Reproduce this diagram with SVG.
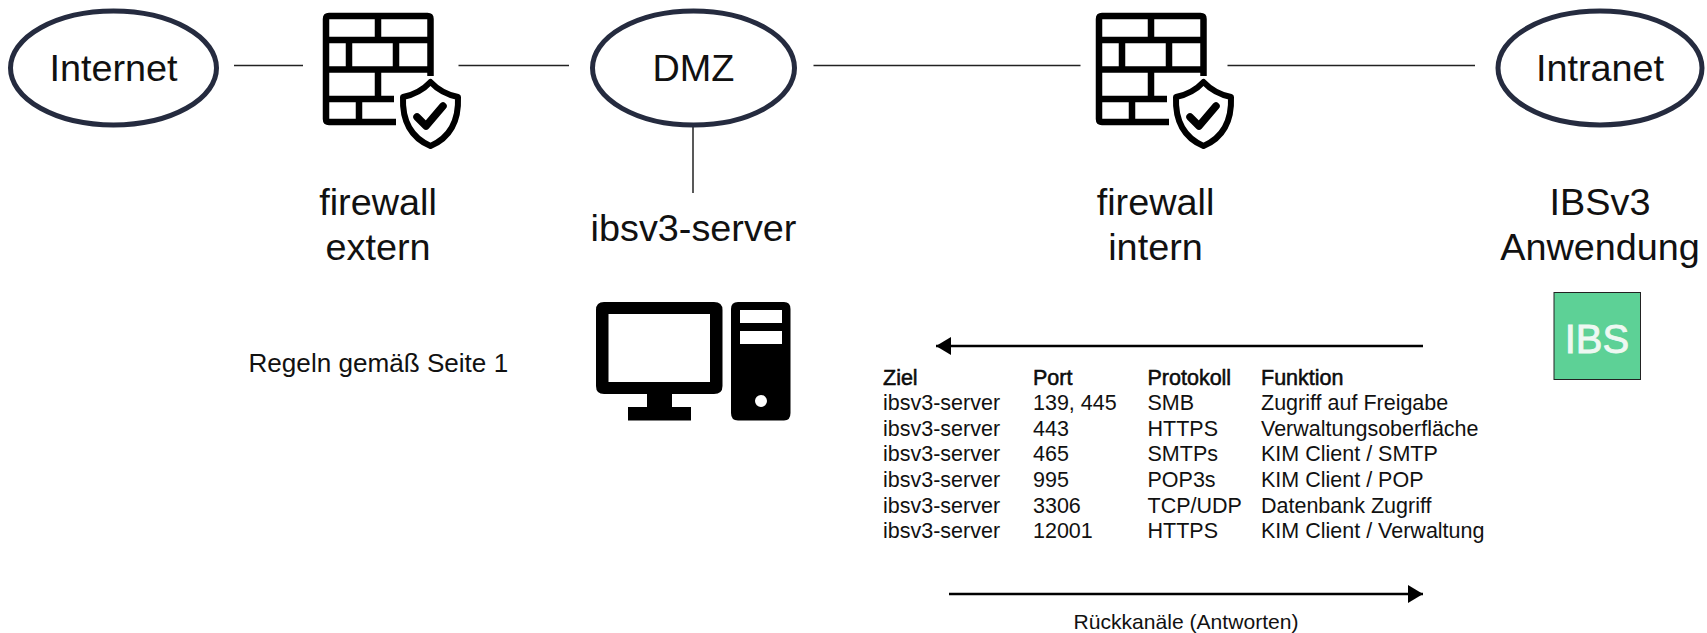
<svg xmlns="http://www.w3.org/2000/svg" width="1707" height="633" viewBox="0 0 1707 633">
<style>
text{font-family:"Liberation Sans",Arial,sans-serif;fill:#111}
.big{font-size:37.8px;text-anchor:middle}
.t{font-size:21.5px}
.h{stroke:#000;stroke-width:.5px}
.oval{fill:#fff;stroke:#252b3f;stroke-width:5}
.line{stroke:#222;stroke-width:1.5;fill:none}
.arrow{stroke:#000;stroke-width:2.6;fill:none}
.fwb{fill:none;stroke:#000;stroke-width:6.500;stroke-linejoin:round}
</style>
<defs>
<marker id="ah" markerUnits="userSpaceOnUse" markerWidth="16" markerHeight="18" refX="15" refY="9" orient="auto"><path d="M0 0L15 9L0 18Z" fill="#000"/></marker>
<g id="fwicon">
<path class="fwb" d="M430.500 76V19Q430.500 16 427.500 16H329Q326 16 326 19V119Q326 122 329 122H396"/>
<path class="fwb" d="M326 40H430M326 69.500H430M326 99H394M378 16V40M349 40V69.500M396 40V69.500M378 69.500V99M359 99V122"/>
<path d="M430.500 82C423 90 413 95 403 97C402 122 412 138 430.500 146C449 138 459 122 458 97C448 95 438 90 430.500 82Z" fill="#fff" stroke="#000" stroke-width="6" stroke-linejoin="round"/>
<path d="M417 117L426 126L443 106" fill="none" stroke="#000" stroke-width="7.500" stroke-linecap="round" stroke-linejoin="round"/>
</g>
</defs>
<rect width="1707" height="633" fill="#fff"/>
<g id="connectors">
<line class="line" x1="234" y1="65.500" x2="303" y2="65.500"/>
<line class="line" x1="458.500" y1="65.500" x2="569" y2="65.500"/>
<line class="line" x1="813.500" y1="65.500" x2="1080.500" y2="65.500"/>
<line class="line" x1="1227.500" y1="65.500" x2="1475" y2="65.500"/>
<line class="line" x1="693" y1="124" x2="693" y2="193"/>
<line class="arrow" x1="1423" y1="346" x2="936" y2="346" marker-end="url(#ah)"/>
<line class="arrow" x1="949" y1="594" x2="1423" y2="594" marker-end="url(#ah)"/>
</g>
<g id="internet"><ellipse class="oval" cx="113.500" cy="68" rx="103" ry="57"/><text class="big" x="113.500" y="81">Internet</text></g>
<g id="firewall-extern"><use href="#fwicon"/><text class="big" x="378" y="215">firewall</text><text class="big" x="378" y="260">extern</text></g>
<g id="dmz"><ellipse class="oval" cx="693.500" cy="68" rx="101" ry="57"/><text class="big" x="693.500" y="81">DMZ</text></g>
<g id="firewall-intern"><use href="#fwicon" x="773"/><text class="big" x="1155.500" y="215">firewall</text><text class="big" x="1155.500" y="260">intern</text></g>
<g id="intranet"><ellipse class="oval" cx="1600" cy="68" rx="102" ry="57"/><text class="big" x="1600" y="81">Intranet</text></g>
<g id="ibsv3-server"><text class="big" x="693.500" y="241">ibsv3-server</text>
<path fill-rule="evenodd" d="M604 302H714Q722.500 302 722.500 310V386Q722.500 394 714 394H672V407H691V420.500H628V407H647V394H604Q596 394 596 386V310Q596 302 604 302ZM608.500 314V382H710V314Z" fill="#000"/>
<path fill-rule="evenodd" d="M738 302H784Q790.500 302 790.500 309V413Q790.500 420.500 784 420.500H738Q731 420.500 731 413V309Q731 302 738 302ZM740 310V323H782V310ZM740 331V344H782V331ZM761 395A6 6 0 1 0 761 407A6 6 0 1 0 761 395Z" fill="#000"/></g>
<g id="ibsv3-anwendung"><text class="big" x="1600" y="215">IBSv3</text><text class="big" x="1600" y="260">Anwendung</text>
<rect x="1554" y="292.500" width="86.500" height="87" fill="#5dd196" stroke="#222" stroke-width="1"/>
<text x="1597" y="353" font-size="40" text-anchor="middle" style="fill:#eef8f2;stroke:#eef8f2;stroke-width:.9px">IBS</text></g>
<g id="regeln"><text x="248.500" y="372" font-size="26.100">Regeln gemäß Seite 1</text></g>
<g id="table" class="t">
<text class="t h" x="883" y="384.500">Ziel</text><text class="t h" x="1033" y="384.500">Port</text><text class="t h" x="1147.500" y="384.500">Protokoll</text><text class="t h" x="1261" y="384.500">Funktion</text>
<text class="t" x="883" y="410">ibsv3-server</text><text class="t" x="1033" y="410">139, 445</text><text class="t" x="1147.500" y="410">SMB</text><text class="t" x="1261" y="410">Zugriff auf Freigabe</text>
<text class="t" x="883" y="435.500">ibsv3-server</text><text class="t" x="1033" y="435.500">443</text><text class="t" x="1147.500" y="435.500">HTTPS</text><text class="t" x="1261" y="435.500">Verwaltungsoberfläche</text>
<text class="t" x="883" y="461">ibsv3-server</text><text class="t" x="1033" y="461">465</text><text class="t" x="1147.500" y="461">SMTPs</text><text class="t" x="1261" y="461">KIM Client / SMTP</text>
<text class="t" x="883" y="486.500">ibsv3-server</text><text class="t" x="1033" y="486.500">995</text><text class="t" x="1147.500" y="486.500">POP3s</text><text class="t" x="1261" y="486.500">KIM Client / POP</text>
<text class="t" x="883" y="512.500">ibsv3-server</text><text class="t" x="1033" y="512.500">3306</text><text class="t" x="1147.500" y="512.500">TCP/UDP</text><text class="t" x="1261" y="512.500">Datenbank Zugriff</text>
<text class="t" x="883" y="538">ibsv3-server</text><text class="t" x="1033" y="538">12001</text><text class="t" x="1147.500" y="538">HTTPS</text><text class="t" x="1261" y="538">KIM Client / Verwaltung</text>
</g>
<g id="rueckkanaele"><text x="1186" y="629" font-size="21.100" text-anchor="middle">Rückkanäle (Antworten)</text></g>
</svg>
